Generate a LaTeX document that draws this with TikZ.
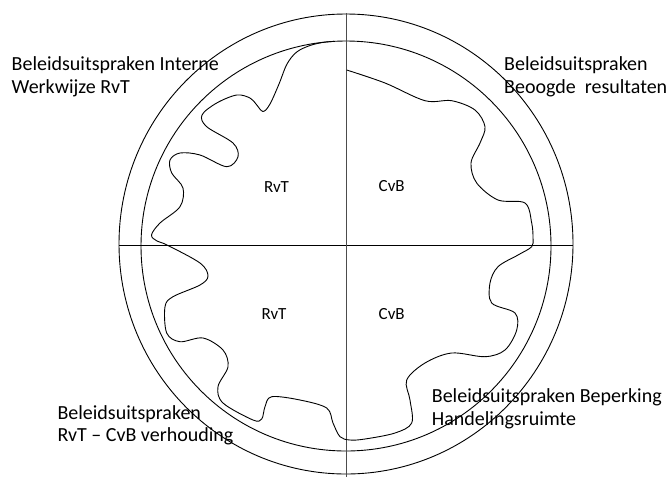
\documentclass[tikz,border=0pt]{standalone}
\usepackage{fontspec}
\setmainfont{Carlito}
\begin{document}
\begin{tikzpicture}[x=1pt,y=-1pt,
  ring/.style={draw=black,line width=0.9pt},
  axisline/.style={draw=black!70,line width=1.4pt},
  blob/.style={draw=black,line width=0.9pt},
  outerlabel/.style={anchor=base west,align=left,inner sep=0pt,font=\fontsize{20}{22.6}\selectfont},
  innerlabel/.style={inner sep=0pt,font=\fontsize{17}{20}\selectfont}]
\useasboundingbox (0,0) rectangle (668,477);
\coordinate (c) at (346,244);
\coordinate (ci) at (346,246);
\draw[ring] (c) ellipse [x radius=227, y radius=230];
\draw[ring] (ci) circle [radius=205];
\coordinate (hl) at (119,245);
\coordinate (hr) at (573,245);
\coordinate (vt) at (346.7,13);
\coordinate (vb) at (346.7,477);
\draw[ring] (hl) -- (hr);
\draw[axisline] (vt) -- (vb);
\draw[blob] plot[smooth, tension=0.55] coordinates {
 (334,41.4) (323,42.4) (310,45.5) (296.7,52) (287,64) (279,84) (270,104) (263,111.5) (256,104) (250,98) (236.7,95)
 (216.7,103) (202,115) (206.7,126.7) (233,143) (238,156.7) (226.7,166.7)
 (200,155) (180,153) (170,160) (171.7,173) (183,188) (180,206.7) (160,223)
 (151.5,235) (157,241) (167,245) (200,263) (208,276) (200,285) (173,296.7)
 (165,306.7) (166.7,333) (180,341.7) (203,338) (223,350) (228,366.7)
 (218,386.7) (223,403) (253,420) (261.7,419) (265,406.7) (271.7,396.7)
 (300,400) (326.7,408) (333,423) (340,436.7) (350,440) (365,439) (395,433)
 (411.7,423) (410,400) (406.7,380) (425,363) (451.7,353) (485,356.7)
 (505,350) (516.7,330) (515,313) (491.7,303) (490,283) (498,266.7) (518,255)
 (531.7,246.7) (533,238) (531.7,223) (525,203) (498,200) (476.7,183) (471,163)
 (480,143) (485,126.7) (475,110) (451.7,100.7) (425,100.7) (385,83) (346.7,70)};
\node[innerlabel] (rvt1) at (276.5,187.5) {RvT};
\node[innerlabel] (cvb1) at (391.7,186.5) {CvB};
\node[innerlabel] (rvt2) at (274,314) {RvT};
\node[innerlabel] (cvb2) at (391.7,314) {CvB};
\node[outerlabel] (tl) at (11.5,93.3) {Beleidsuitspraken Interne\\Werkwijze RvT};
\node[outerlabel] (tr) at (504,93.3) {Beleidsuitspraken\\Beoogde\hspace{0.45em}resultaten};
\node[outerlabel] (bl) at (57.3,441.7) {Beleidsuitspraken\\RvT -- CvB verhouding};
\node[outerlabel] (br) at (431.7,425) {Beleidsuitspraken Beperking\\Handelingsruimte};
\end{tikzpicture}
\end{document}
